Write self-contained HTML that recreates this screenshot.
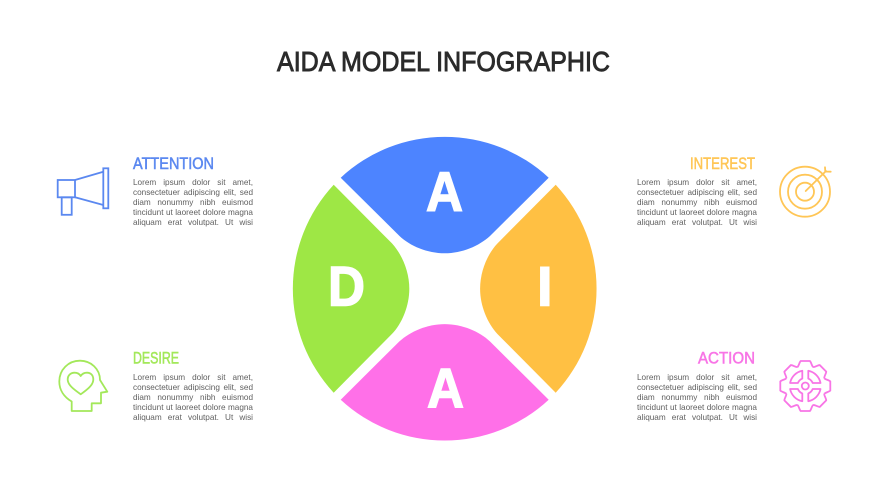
<!DOCTYPE html>
<html><head><meta charset="utf-8"><style>
html,body{margin:0;padding:0;background:#fff;width:889px;height:500px;overflow:hidden}
svg{position:absolute;left:0;top:0}
.b{position:absolute;width:120px;font:8.2px/10px "Liberation Sans",sans-serif;color:#5f5f5f}
.b div{text-align:justify;text-align-last:justify;white-space:nowrap}
text{font-family:"Liberation Sans",sans-serif}
</style></head><body>
<svg width="889" height="500" viewBox="0 0 889 500">
<defs><path id="p" d="M340.7 177.7A152.8 152.8 0 0 1 548.7 177.7L490 236C479 246 462 253.3 444.7 253.3S410 246 399.5 236Z"/>
<path id="t" d="M-7.85-18.94C-6.5-20-5.8-24-4.6-25L4.6-25C5.8-24 6.5-20 7.85-18.94"/>
<path id="q" d="M3-7.4V-15.2A15.5 15.5 0 0 1 15.2-3H7.4A8 8 0 0 0 3-7.4Z"/></defs>
<use href="#p" fill="#4d84ff"/>
<use href="#p" fill="#ffc043" transform="rotate(90 444.7 288.7)"/>
<use href="#p" fill="#ff70e8" transform="rotate(180 444.7 288.7)"/>
<use href="#p" fill="#9ee745" transform="rotate(270 444.7 288.7)"/>
<g font-weight="700" font-size="56" fill="#fff" stroke="#fff" stroke-width="1.4">
<text x="426" y="211" textLength="37" lengthAdjust="spacingAndGlyphs">A</text>
<text x="328" y="305.5" textLength="37" lengthAdjust="spacingAndGlyphs">D</text>
<text x="537" y="305.5">I</text>
<text x="427" y="407.5" textLength="37" lengthAdjust="spacingAndGlyphs">A</text>
</g>
<text x="277" y="71" font-size="28" fill="#2b2b2b" stroke="#2b2b2b" stroke-width=".9" textLength="333" lengthAdjust="spacingAndGlyphs">AIDA MODEL INFOGRAPHIC</text>
<g font-size="16.5" stroke-width=".55">
<text x="133" y="169" fill="#5b88f0" stroke="#5b88f0" textLength="81" lengthAdjust="spacingAndGlyphs">ATTENTION</text>
<text x="690" y="169" fill="#ffc656" stroke="#ffc656" textLength="65" lengthAdjust="spacingAndGlyphs">INTEREST</text>
<text x="133" y="363.5" fill="#a3e85a" stroke="#a3e85a" textLength="46" lengthAdjust="spacingAndGlyphs">DESIRE</text>
<text x="698" y="363.5" fill="#f875e6" stroke="#f875e6" textLength="57" lengthAdjust="spacingAndGlyphs">ACTION</text>
</g>
<g fill="none" stroke="#5b88f0" stroke-width="1.8">
<rect x="57.7" y="180" width="17.3" height="17.3"/><rect x="61.7" y="197.3" width="10" height="17.5"/>
<path d="M75 180L103.3 171.7M75 197.3L103.3 205"/><rect x="103.3" y="168.3" width="5" height="40"/>
</g>
<g fill="none" stroke="#a3e85a" stroke-width="1.8" stroke-linejoin="round">
<path d="M71.7 411V401.5C64 397 59.3 390 59.3 381.5C59.3 369.5 68.5 360.7 80 360.7C91 360.7 100 369 100 380L107.3 391.7L101 392.7V403.3H91.7V411Z"/>
<path d="M80.7 394.3C74 389.5 67.7 385 67.7 379.5C67.7 375 71 372.7 74.5 372.7C77 372.7 79.5 374 80.7 376C82 374 84.5 372.7 87 372.7C90.5 372.7 93.3 375 93.3 379.5C93.3 385 87.5 389.5 80.7 394.3Z"/>
</g>
<g fill="none" stroke="#ffc656" stroke-width="1.8" stroke-linecap="round">
<circle cx="805" cy="191.7" r="25"/><circle cx="805" cy="191.7" r="17"/><circle cx="805" cy="191.7" r="9"/>
<path d="M805.7 191L826 171M825 167.3L825.3 171.5L830.7 171.7"/>
</g>
<g fill="none" stroke="#f875e6" stroke-width="1.8" stroke-linejoin="round" transform="translate(805.3 386)">
<use href="#t"/><use href="#t" transform="rotate(45)"/><use href="#t" transform="rotate(90)"/><use href="#t" transform="rotate(135)"/>
<use href="#t" transform="rotate(180)"/><use href="#t" transform="rotate(225)"/><use href="#t" transform="rotate(270)"/><use href="#t" transform="rotate(315)"/>
<circle r="3.5"/>
<use href="#q"/><use href="#q" transform="rotate(90)"/><use href="#q" transform="rotate(180)"/><use href="#q" transform="rotate(270)"/>
</g>
</svg>
<div class="b" style="left:133px;top:178px"><div>Lorem ipsum dolor sit amet,</div><div>consectetuer adipiscing elit, sed</div><div>diam nonummy nibh euismod</div><div>tincidunt ut laoreet dolore magna</div><div>aliquam erat volutpat. Ut wisi</div></div>
<div class="b" style="left:637px;top:178px"><div>Lorem ipsum dolor sit amet,</div><div>consectetuer adipiscing elit, sed</div><div>diam nonummy nibh euismod</div><div>tincidunt ut laoreet dolore magna</div><div>aliquam erat volutpat. Ut wisi</div></div>
<div class="b" style="left:133px;top:372.5px"><div>Lorem ipsum dolor sit amet,</div><div>consectetuer adipiscing elit, sed</div><div>diam nonummy nibh euismod</div><div>tincidunt ut laoreet dolore magna</div><div>aliquam erat volutpat. Ut wisi</div></div>
<div class="b" style="left:637px;top:372.5px"><div>Lorem ipsum dolor sit amet,</div><div>consectetuer adipiscing elit, sed</div><div>diam nonummy nibh euismod</div><div>tincidunt ut laoreet dolore magna</div><div>aliquam erat volutpat. Ut wisi</div></div>
</body></html>
